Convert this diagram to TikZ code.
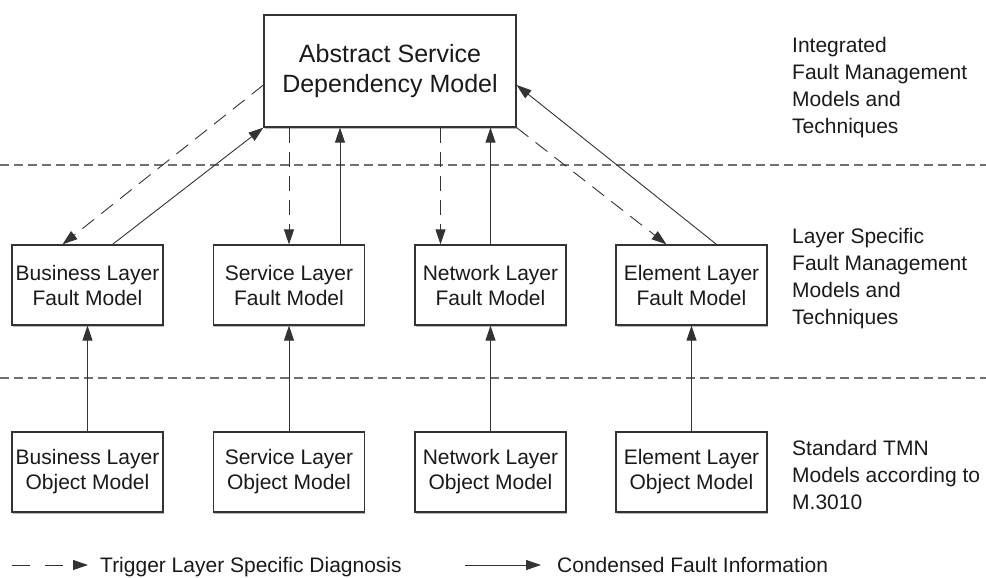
\documentclass[tikz,border=0pt]{standalone}
\usepackage{fontspec}
\setmainfont{Liberation Sans}
\usetikzlibrary{arrows.meta,shadows}
\definecolor{ln}{HTML}{333333}
\definecolor{sepc}{HTML}{707070}
\definecolor{txt}{HTML}{1A1A1A}
\begin{document}
\begin{tikzpicture}[x=1pt,y=-1pt,
  box/.style={draw=ln, line width=1.2pt, fill=white, minimum width=151pt,
    minimum height=80pt, inner sep=0pt, align=center, text=txt,
    font=\fontsize{21}{25}\selectfont,
    drop shadow={shadow xshift=0.6pt, shadow yshift=-1.6pt, fill=gray!55, opacity=1}},
  topbox/.style={box, minimum width=252pt, minimum height=112pt,
    font=\fontsize{25}{30}\selectfont},
  lbl/.style={anchor=north west, inner sep=0pt, align=left, text=txt,
    font=\fontsize{21}{27}\selectfont},
  legtxt/.style={anchor=base west, inner sep=0pt, text=txt,
    font=\fontsize{21}{25}\selectfont},
  tip/.style={-{Triangle[length=15pt,width=10pt]}},
  solidarrow/.style={tip, draw=ln, line width=0.9pt},
  dasharrow/.style={tip, draw=ln, line width=0.9pt, dash pattern=on 15pt off 9pt},
  sepline/.style={draw=sepc, line width=1.7pt, dash pattern=on 9pt off 5pt}]
\useasboundingbox (0,0) rectangle (986,578);

% separators
\coordinate (s1a) at (0,165); \coordinate (s1b) at (986,165);
\coordinate (s2a) at (0,378); \coordinate (s2b) at (986,378);
\draw[sepline] (s1a) -- (s1b);
\draw[sepline] (s2a) -- (s2b);

% nodes
\node[topbox] (top) at (390,71) {Abstract Service\\Dependency Model};

\node[box] (b1) at (87.5,285) {Business Layer\\Fault Model};
\node[box] (b2) at (289,285) {Service Layer\\Fault Model};
\node[box] (b3) at (490.5,285) {Network Layer\\Fault Model};
\node[box] (b4) at (691.5,285) {Element Layer\\Fault Model};

\node[box] (o1) at (87.5,472) {Business Layer\\Object Model};
\node[box] (o2) at (289,472) {Service Layer\\Object Model};
\node[box] (o3) at (490.5,472) {Network Layer\\Object Model};
\node[box] (o4) at (691.5,472) {Element Layer\\Object Model};

% right labels
\node[lbl] (l1) at (792,37) {Integrated\\Fault Management\\Models and\\Techniques};
\node[lbl] (l2) at (792,228) {Layer Specific\\Fault Management\\Models and\\Techniques};
\node[lbl] (l3) at (792,440) {Standard TMN\\Models according to\\M.3010};

% top <-> middle
\draw[dasharrow] ([yshift=-14pt]top.west) -- ([xshift=-25pt]b1.north);
\draw[solidarrow] ([xshift=25pt]b1.north) -- (top.south west);
\draw[dasharrow] (top.south -| b2.north) -- (b2.north);
\draw[solidarrow] ([xshift=51pt]b2.north) -- ([xshift=51pt]b2.north |- top.south);
\draw[dasharrow] ([xshift=-50pt]b3.north |- top.south) -- ([xshift=-50pt]b3.north);
\draw[solidarrow] (b3.north) -- (b3.north |- top.south);
\draw[dasharrow] (top.south east) -- ([xshift=-25pt]b4.north);
\draw[solidarrow] ([xshift=25pt]b4.north) -- ([yshift=-14pt]top.east);

% bottom -> middle
\draw[solidarrow] (o1.north) -- (b1.south);
\draw[solidarrow] (o2.north) -- (b2.south);
\draw[solidarrow] (o3.north) -- (b3.south);
\draw[solidarrow] (o4.north) -- (b4.south);

% legend
\coordinate (la1) at (12,565); \coordinate (la2) at (88,565);
\coordinate (lb1) at (465,565); \coordinate (lb2) at (541,565);
\draw[tip, draw=ln, line width=0.9pt, dash pattern=on 18pt off 15pt] (la1) -- (la2);
\draw[solidarrow] (lb1) -- (lb2);
\node[legtxt] (t1) at (100,572.5) {Trigger Layer Specific Diagnosis};
\node[legtxt] (t2) at (557,572.5) {Condensed Fault Information};
\end{tikzpicture}
\end{document}
